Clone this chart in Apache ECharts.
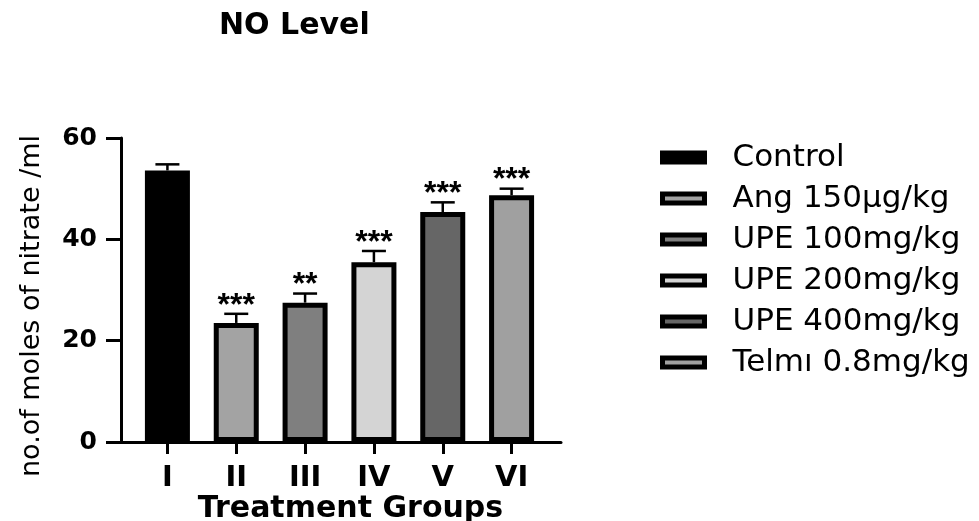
<!DOCTYPE html>
<html>
<head>
<meta charset="utf-8">
<script src="https://cdn.jsdelivr.net/npm/echarts@6/dist/echarts.min.js"></script>
<style>
  html, body { margin: 0; padding: 0; background: #ffffff; }
  #chart { width: 979px; height: 521px; }
</style>
</head>
<body>
<div id="chart"></div>
<script>
const titleText = 'NO Level';
const categories = ['I', 'II', 'III', 'IV', 'V', 'VI'];
const groups = ['Control', 'Ang 150µg/kg', 'UPE 100mg/kg', 'UPE 200mg/kg', 'UPE 400mg/kg', 'Telmı 0.8mg/kg'];
const means = [53.6, 23.5, 27.5, 35.5, 45.4, 48.7];
const errors = [1.2, 1.8, 1.8, 2.2, 1.9, 1.3];
const stars = ['', '***', '**', '***', '***', '***'];
const yTicks = [0, 20, 40, 60];
const colors = ['#000000', '#a3a3a3', '#7f7f7f', '#d4d4d4', '#666666', '#a0a0a0'];
const xName = 'Treatment Groups';
const yName = 'no.of moles of nitrate /ml';

const FONT = 'DejaVu Sans';

const barSeries = groups.map((g, i) => ({
  name: g,
  type: 'bar',
  stack: 'grp',
  barWidth: 45,
  data: categories.map((c, j) => (j === i ? means[i] : '-')),
  itemStyle: { color: colors[i], borderColor: '#000', borderWidth: 5 },
  emphasis: { disabled: true },
  z: 2
}));

const errorSeries = {
  type: 'custom',
  xAxisIndex: 0,
  yAxisIndex: 0,
  z: 5,
  silent: true,
  data: means.map((m, i) => [i, m, errors[i]]),
  renderItem: function (params, api) {
    const x = api.value(0), m = api.value(1), e = api.value(2);
    const base = api.coord([x, m]);
    const hi = api.coord([x, m + e]);
    const half = 12;
    const children = [
      { type: 'line', shape: { x1: base[0], y1: base[1], x2: hi[0], y2: hi[1] },
        style: { stroke: '#000', lineWidth: 2.5 } },
      { type: 'line', shape: { x1: hi[0] - half, y1: hi[1], x2: hi[0] + half, y2: hi[1] },
        style: { stroke: '#000', lineWidth: 2.5 } }
    ];
    const s = stars[params.dataIndex];
    if (s) {
      children.push({ type: 'text',
        style: { text: s, x: hi[0], y: hi[1] + 8, align: 'center', verticalAlign: 'bottom',
          fill: '#000', font: 'bold 32px "Liberation Sans", Arial, sans-serif' } });
    }
    return { type: 'group', children: children };
  }
};

const chart = echarts.init(document.getElementById('chart'), null, { renderer: 'canvas' });
chart.setOption({
  backgroundColor: '#ffffff',
  animation: false,
  title: {
    text: titleText, left: 214, top: 6,
    textStyle: { fontFamily: FONT, fontWeight: 'bold', fontSize: 30, color: '#000' }
  },
  legend: {
    orient: 'vertical', left: 660, top: 142, padding: 0,
    itemWidth: 42, itemHeight: 9, itemGap: 10,
    icon: 'rect',
    data: groups,
    itemStyle: { borderWidth: 5, borderColor: '#000' },
    textStyle: { fontFamily: FONT, fontSize: 31, color: '#000', padding: [0, 0, 0, 23] },
    selectedMode: false
  },
  grid: [
    { left: 133, right: 433, top: 138, bottom: 79, outerBoundsMode: 'none', containLabel: false },
    { left: 121, right: 418, top: 138, bottom: 79, outerBoundsMode: 'none', containLabel: false }
  ],
  xAxis: [
    {
      type: 'category', gridIndex: 0, data: categories,
      axisLine: { show: false },
      axisTick: { show: true, alignWithLabel: true, length: 12, lineStyle: { color: '#000', width: 3 } },
      axisLabel: { margin: 22, fontFamily: FONT, fontWeight: 'bold', fontSize: 29, color: '#000' },
      name: xName, nameLocation: 'middle', nameGap: 52, nameMoveOverlap: false,
      nameTextStyle: { fontFamily: FONT, fontWeight: 'bold', fontSize: 30, color: '#000', padding: [0, 0, 0, 22] }
    },
    {
      type: 'value', gridIndex: 1, min: 0, max: 1,
      axisLine: { show: true, lineStyle: { color: '#000', width: 3 } },
      axisTick: { show: false }, axisLabel: { show: false }, splitLine: { show: false }
    }
  ],
  yAxis: [
    {
      type: 'value', gridIndex: 0, min: yTicks[0], max: yTicks[yTicks.length - 1], interval: yTicks[1] - yTicks[0],
      offset: 12,
      axisLine: { show: true, lineStyle: { color: '#000', width: 3 } },
      axisTick: { show: true, length: 15, lineStyle: { color: '#000', width: 3 } },
      axisLabel: { margin: 24, fontFamily: FONT, fontWeight: 'bold', fontSize: 25, color: '#000' },
      splitLine: { show: false },
      name: yName, nameLocation: 'middle', nameGap: 76, nameMoveOverlap: false,
      nameTextStyle: { fontFamily: FONT, fontSize: 27, color: '#000', padding: [0, 32, 0, 0] }
    },
    { type: 'value', gridIndex: 1, show: false, min: 0, max: 1 }
  ],
  series: barSeries.concat([errorSeries])
});
</script>
</body>
</html>
